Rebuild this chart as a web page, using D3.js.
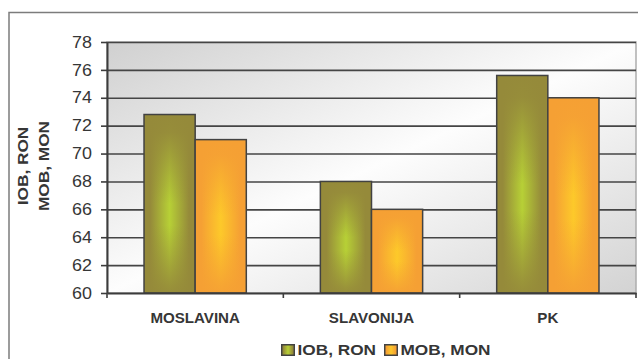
<!DOCTYPE html>
<html>
<head>
<meta charset="utf-8">
<script src="https://cdn.jsdelivr.net/npm/d3@7"></script>
<style>
  html, body { margin: 0; padding: 0; background: #fff; }
  svg { display: block; }
  text { font-family: "Liberation Sans", Arial, sans-serif; fill: #363636; }
</style>
</head>
<body>
<svg id="chart" width="638" height="359"></svg>
<script>
// Chart data
const categories = ["MOSLAVINA", "SLAVONIJA", "PK"];
const seriesNames = ["IOB, RON", "MOB, MON"];
const iobRon = [72.8, 68.0, 75.6];
const mobMon = [71.0, 66.0, 74.0];
const yTicks = [60, 62, 64, 66, 68, 70, 72, 74, 76, 78];
const yTitleLines = ["IOB, RON", "MOB, MON"];

const rows = categories.map((c, i) => ({ category: c, values: [iobRon[i], mobMon[i]] }));

const W = 638, H = 359;
const plot = { left: 107, right: 636, top: 42, bottom: 293 };
const stretch = 1.15; // wide lettering

const svg = d3.select("#chart");
const defs = svg.append("defs");

// Plot-area backdrop: grey corners fading to white along the diagonal
const bg = defs.append("linearGradient").attr("id", "plotBg")
  .attr("x1", 0).attr("y1", 0).attr("x2", 1).attr("y2", 1);
bg.append("stop").attr("offset", "0%").attr("stop-color", "#d0d0d0");
bg.append("stop").attr("offset", "50%").attr("stop-color", "#fdfdfd");
bg.append("stop").attr("offset", "100%").attr("stop-color", "#d3d3d3");

// Bar fills: bright centre, darker rim
const palettes = [
  { id: "g", edge: "#958a3a", center: "#b7d036" },
  { id: "o", edge: "#f5a034", center: "#fdc92a" }
];
palettes.forEach(p => {
  const h = defs.append("linearGradient").attr("id", p.id + "H")
    .attr("x1", 0).attr("y1", 0).attr("x2", 1).attr("y2", 0);
  [[0, p.edge], [0.12, p.edge], [0.5, p.center], [0.88, p.edge], [1, p.edge]]
    .forEach(([o, c]) => h.append("stop").attr("offset", o).attr("stop-color", c));
  const v = defs.append("linearGradient").attr("id", p.id + "V")
    .attr("x1", 0).attr("y1", 0).attr("x2", 0).attr("y2", 1);
  [[0, 1], [0.1, 0.95], [0.5, 0], [0.62, 0], [0.95, 0.85], [1, 0.95]]
    .forEach(([o, a]) => v.append("stop").attr("offset", o)
      .attr("stop-color", p.edge).attr("stop-opacity", a));
});

// Outer chart frame (runs off the right and bottom edges)
svg.append("rect")
  .attr("x", 9).attr("y", 12.5).attr("width", W + 10).attr("height", H + 10)
  .attr("fill", "none").attr("stroke", "#7c7c7c").attr("stroke-width", 1.5);

// Scales
const x0 = d3.scaleBand().domain(categories)
  .range([plot.left, plot.right]).paddingInner(0.42).paddingOuter(0.21);
const x1 = d3.scaleBand().domain(seriesNames).range([0, x0.bandwidth()]);
const y = d3.scaleLinear().domain([60, 78]).range([plot.bottom, plot.top]);

// Plot backdrop
svg.append("rect")
  .attr("x", plot.left).attr("y", plot.top)
  .attr("width", plot.right - plot.left).attr("height", plot.bottom - plot.top)
  .attr("fill", "url(#plotBg)").attr("stroke", "#adadad").attr("stroke-width", 1.5);

// Horizontal gridlines
svg.append("g").attr("transform", `translate(${plot.left},0)`)
  .call(d3.axisLeft(y).tickValues(yTicks.filter(t => t > 60))
    .tickSize(-(plot.right - plot.left)).tickFormat(""))
  .call(g => g.select(".domain").remove())
  .call(g => g.selectAll(".tick line").attr("stroke", "#454545").attr("stroke-width", 1.6));

// Bars
const groups = svg.append("g").selectAll("g").data(rows).join("g")
  .attr("transform", d => `translate(${x0(d.category)},0)`);
const bars = groups.selectAll("g").data(d => d.values.map((v, i) => ({ v, i }))).join("g");
bars.append("rect")
  .attr("x", d => x1(seriesNames[d.i])).attr("y", d => y(d.v))
  .attr("width", x1.bandwidth()).attr("height", d => y(60) - y(d.v))
  .attr("fill", d => `url(#${palettes[d.i].id}H)`);
bars.append("rect")
  .attr("x", d => x1(seriesNames[d.i])).attr("y", d => y(d.v))
  .attr("width", x1.bandwidth()).attr("height", d => y(60) - y(d.v))
  .attr("fill", d => `url(#${palettes[d.i].id}V)`)
  .attr("stroke", "#424242").attr("stroke-width", 1.5);

// Y axis
const yAxis = svg.append("g").attr("transform", `translate(${plot.left},0)`)
  .attr("font-size", null).attr("font-family", null)
  .call(d3.axisLeft(y).tickValues(yTicks).tickSize(6).tickPadding(9).tickSizeOuter(0));
yAxis.select(".domain").attr("stroke", "#3c3c3c").attr("stroke-width", 2);
yAxis.selectAll(".tick line").attr("stroke", "#3c3c3c").attr("stroke-width", 1.6);
yAxis.selectAll(".tick text")
  .style("font-size", "16px").style("font-family", "Liberation Sans, Arial, sans-serif")
  .attr("fill", "#363636")
  .each(function() {
    const t = d3.select(this);
    const xx = +t.attr("x");
    t.attr("x", null).attr("transform", `translate(${xx},0) scale(1.12,1)`);
  });

// X axis: baseline, boundary ticks and category labels
const xAxis = svg.append("g").attr("transform", `translate(0,${plot.bottom})`)
  .call(d3.axisBottom(x0).tickSize(0).tickPadding(20));
xAxis.select(".domain").attr("stroke", "#3c3c3c").attr("stroke-width", 2);
xAxis.selectAll(".tick text")
  .style("font-size", "14px").style("font-weight", "bold")
  .style("font-family", "Liberation Sans, Arial, sans-serif")
  .attr("fill", "#363636")
  .attr("transform", "scale(1.08,1)")
  .attr("x", 0);
xAxis.selectAll(".tick").each(function(d) {
  const cx = x0(d) + x0.bandwidth() / 2;
  d3.select(this).attr("transform", `translate(${cx},0)`);
});
const step = x0.step();
d3.range(categories.length + 1).forEach(i => {
  xAxis.append("line")
    .attr("x1", plot.left + i * step).attr("x2", plot.left + i * step)
    .attr("y1", 0).attr("y2", 5)
    .attr("stroke", "#3c3c3c").attr("stroke-width", 1.6);
});

// Y axis title (two rotated lines)
const yTitle = svg.append("g").attr("transform", "translate(0,166)");
yTitleLines.forEach((line, i) => {
  yTitle.append("text")
    .attr("transform", `translate(${28 + i * 21},0) rotate(-90) scale(${stretch},1)`)
    .attr("text-anchor", "middle")
    .style("font-size", "15px").style("font-weight", "bold")
    .text(line);
});

// Legend
const legend = svg.append("g").attr("transform", "translate(281,344)");
const legendOffsets = [0, 103];
seriesNames.forEach((name, i) => {
  const item = legend.append("g").attr("transform", `translate(${legendOffsets[i]},0)`);
  item.append("rect").attr("x", 0.75).attr("y", 0.75).attr("width", 12.5).attr("height", 10.5)
    .attr("fill", `url(#${palettes[i].id}H)`)
    .attr("stroke", "#424242").attr("stroke-width", 1.5);
  item.append("text")
    .attr("transform", `translate(16.5,11) scale(${stretch},1)`)
    .style("font-size", "15px").style("font-weight", "bold")
    .text(name);
});
</script>
</body>
</html>
